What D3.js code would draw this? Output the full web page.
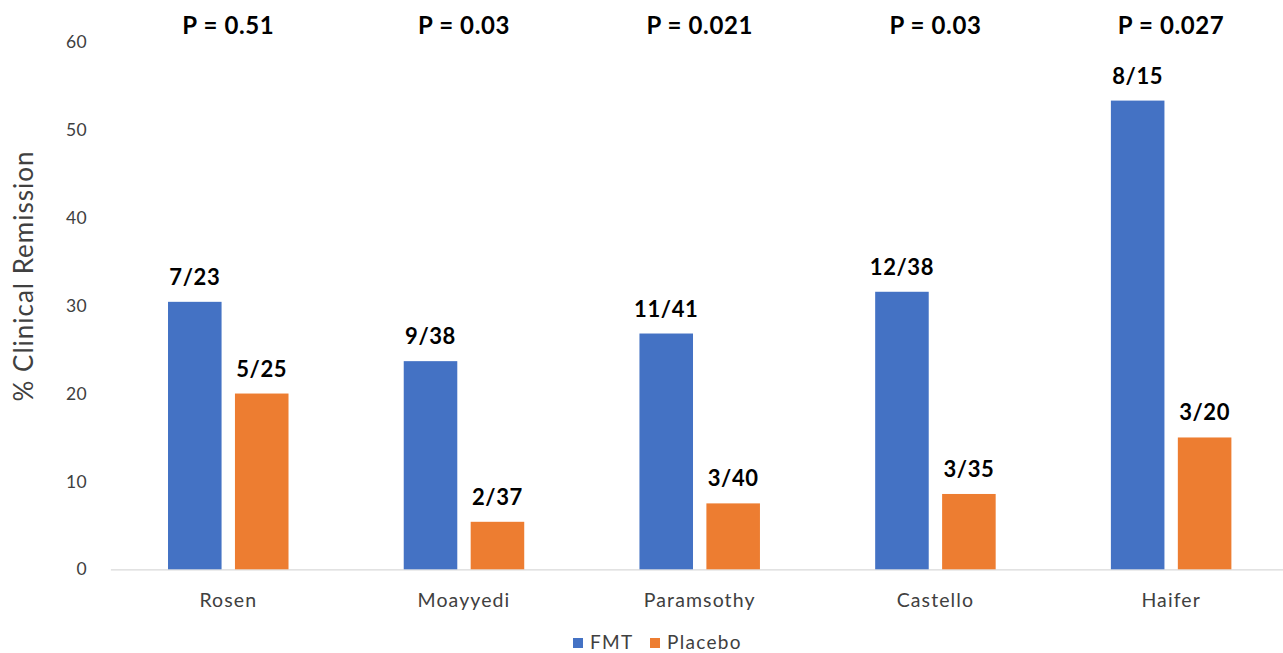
<!DOCTYPE html>
<html>
<head>
<meta charset="utf-8">
<script src="https://cdn.jsdelivr.net/npm/d3@7"></script>
<style>
  html, body { margin: 0; padding: 0; background: #fff; }
  svg { display: block; font-family: Lato, "Open Sans", sans-serif; }
</style>
</head>
<body>
<svg id="chart" width="1283" height="653"></svg>
<script>
// Trials and their outcomes (responders / enrolled)
const studies = ["Rosen", "Moayyedi", "Paramsothy", "Castello", "Haifer"];
const fmtResponders = [7, 9, 11, 12, 8];
const fmtTotals = [23, 38, 41, 38, 15];
const placeboResponders = [5, 2, 3, 3, 3];
const placeboTotals = [25, 37, 40, 35, 20];
const pValues = ["0.51", "0.03", "0.021", "0.03", "0.027"];
const yTicks = [0, 10, 20, 30, 40, 50, 60];
const seriesNames = ["FMT", "Placebo"];
const seriesColors = ["#4472C4", "#ED7D31"];

const rows = studies.map((s, i) => ({
  study: s,
  p: pValues[i],
  bars: [
    { key: "FMT", n: fmtResponders[i], d: fmtTotals[i] },
    { key: "Placebo", n: placeboResponders[i], d: placeboTotals[i] }
  ].map(b => ({ ...b, pct: 100 * b.n / b.d }))
}));

const svg = d3.select("#chart");
const FONT = "Lato, 'Open Sans', sans-serif";

const x = d3.scaleBand().domain(studies).range([110.4, 1289]).paddingInner(0).paddingOuter(0);
const sub = d3.scaleBand().domain(seriesNames)
  .range([x.bandwidth() / 2 - 60.25, x.bandwidth() / 2 + 60.25])
  .paddingInner(0.2).paddingOuter(0);
const y = d3.scaleLinear().domain([0, 60]).range([569.3, 42]);
const color = d3.scaleOrdinal().domain(seriesNames).range(seriesColors);

// Y axis tick labels (no axis line or gridlines)
const yAxis = svg.append("g").attr("transform", "translate(87,0)")
  .call(d3.axisLeft(y).tickValues(yTicks).tickSize(0).tickPadding(0));
yAxis.select(".domain").remove();
yAxis.selectAll("text").attr("font-size", 17.5).attr("fill", "#404040")
  .attr("font-family", FONT).attr("letter-spacing", 0.4);

// X axis baseline and category labels
const xAxis = svg.append("g").attr("transform", `translate(0,${y(0)})`)
  .call(d3.axisBottom(x).tickSize(0).tickPadding(24));
xAxis.select(".domain").attr("stroke", "#d9d9d9").attr("stroke-width", 1.3);
xAxis.selectAll("text").attr("font-size", 19.5).attr("fill", "#404040")
  .attr("font-family", FONT).attr("letter-spacing", 1.1);

// Grouped bars
const groups = svg.append("g").selectAll("g").data(rows).join("g")
  .attr("transform", d => `translate(${x(d.study)},0)`);

groups.selectAll("rect").data(d => d.bars).join("rect")
  .attr("x", d => sub(d.key))
  .attr("width", sub.bandwidth())
  .attr("y", d => y(d.pct))
  .attr("height", d => y(0) - y(d.pct))
  .attr("fill", d => color(d.key));

// Responder fractions above each bar
groups.selectAll("text.val").data(d => d.bars).join("text")
  .attr("class", "val")
  .attr("x", d => sub(d.key) + sub.bandwidth() / 2)
  .attr("y", d => y(d.pct) - 17)
  .attr("text-anchor", "middle")
  .attr("font-size", 22).attr("font-weight", "bold").attr("fill", "#000")
  .attr("letter-spacing", 0.6)
  .text(d => `${d.n}/${d.d}`);

// P values above each trial
svg.append("g").selectAll("text").data(rows).join("text")
  .attr("x", d => x(d.study) + x.bandwidth() / 2)
  .attr("y", 34)
  .attr("text-anchor", "middle")
  .attr("font-size", 24).attr("font-weight", "bold").attr("fill", "#000")
  .attr("letter-spacing", 0.6)
  .text(d => `P = ${d.p}`);

// Y axis title
svg.append("text")
  .attr("transform", "translate(33,276) rotate(-90)")
  .attr("text-anchor", "middle")
  .attr("font-size", 26).attr("fill", "#404040")
  .attr("letter-spacing", 1)
  .text("% Clinical Remission");

// Legend
const legend = svg.append("g").attr("transform", "translate(573,634)");
const items = legend.selectAll("g").data(seriesNames).join("g")
  .attr("transform", (d, i) => `translate(${i * 77},0)`);
items.append("rect").attr("width", 10).attr("height", 10).attr("y", 4)
  .attr("fill", d => color(d));
items.append("text").attr("x", 17).attr("y", 15)
  .attr("font-size", 19).attr("fill", "#404040").attr("letter-spacing", 1.3)
  .text(d => d);
</script>
</body>
</html>
